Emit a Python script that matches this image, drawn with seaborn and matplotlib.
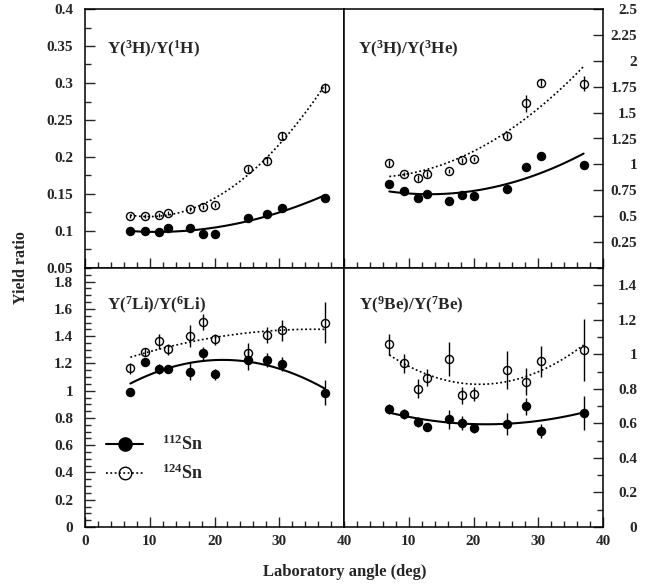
import numpy as np
import pandas as pd
import matplotlib
matplotlib.use("Agg")
import matplotlib.pyplot as plt
from matplotlib.lines import Line2D
from matplotlib.ticker import FixedLocator, MultipleLocator, FuncFormatter
import seaborn as sns

# Laboratory angles (deg)
angle = [7.0, 9.3, 11.4, 12.8, 16.2, 18.3, 20.0, 25.1, 28.1, 30.5, 37.0]

# Y(3H)/Y(1H)
h_sn112 = [0.0996, 0.0996, 0.0982, 0.104, 0.104, 0.0955, 0.0955, 0.118, 0.123, 0.1307, 0.1446]
h_sn112_err = [0.002, 0.002, 0.002, 0.002, 0.002, 0.002, 0.002, 0.003, 0.003, 0.003, 0.004]
h_sn124 = [0.1203, 0.1203, 0.1216, 0.1247, 0.1301, 0.1324, 0.1355, 0.1838, 0.195, 0.2284, 0.2936]
h_sn124_err = [0.003, 0.003, 0.003, 0.003, 0.003, 0.003, 0.003, 0.004, 0.005, 0.005, 0.007]

# Y(3H)/Y(3He)
he_sn112 = [0.809, 0.739, 0.674, 0.710, 0.643, 0.703, 0.694, 0.764, 0.976, 1.079, 0.990]
he_sn112_err = [0.02, 0.02, 0.02, 0.02, 0.02, 0.02, 0.02, 0.02, 0.03, 0.03, 0.03]
he_sn124 = [1.016, 0.904, 0.868, 0.907, 0.939, 1.038, 1.055, 1.272, 1.590, 1.790, 1.780]
he_sn124_err = [0.03, 0.02, 0.03, 0.03, 0.02, 0.02, 0.02, 0.03, 0.08, 0.03, 0.07]

# Y(7Li)/Y(6Li)
li_sn112 = [0.988, 1.213, 1.159, 1.157, 1.139, 1.274, 1.120, 1.225, 1.225, 1.194, 0.985]
li_sn112_err = [0.03, 0.03, 0.04, 0.03, 0.064, 0.05, 0.04, 0.073, 0.05, 0.05, 0.09]
li_sn124 = [1.164, 1.286, 1.364, 1.303, 1.403, 1.505, 1.376, 1.274, 1.408, 1.445, 1.498]
li_sn124_err = [0.04, 0.03, 0.055, 0.04, 0.08, 0.06, 0.04, 0.075, 0.06, 0.077, 0.15]

# Y(9Be)/Y(7Be)
be_sn112 = [0.683, 0.656, 0.609, 0.582, 0.623, 0.602, 0.573, 0.598, 0.698, 0.555, 0.660]
be_sn112_err = [0.03, 0.03, 0.03, 0.02, 0.056, 0.04, 0.03, 0.063, 0.05, 0.04, 0.10]
be_sn124 = [1.057, 0.947, 0.801, 0.865, 0.973, 0.762, 0.772, 0.912, 0.840, 0.960, 1.023]
be_sn124_err = [0.06, 0.056, 0.056, 0.05, 0.10, 0.05, 0.04, 0.11, 0.078, 0.09, 0.18]

titles = [r"Y($^{3}$H)/Y($^{1}$H)", r"Y($^{3}$H)/Y($^{3}$He)",
          r"Y($^{7}$Li)/Y($^{6}$Li)", r"Y($^{9}$Be)/Y($^{7}$Be)"]
legend_labels = [r"$^{112}$Sn", r"$^{124}$Sn"]

sns.set_theme(style="ticks")
serif = "Liberation Serif"
plt.rcParams.update({
    "font.family": [serif, "DejaVu Serif"],
    "font.weight": "bold",
    "mathtext.fontset": "custom",
    "mathtext.rm": f"{serif}:bold",
    "mathtext.it": f"{serif}:bold",
    "mathtext.bf": f"{serif}:bold",
    "mathtext.default": "rm",
    "axes.linewidth": 1.1,
    "axes.edgecolor": "black",
})

fig, axes = plt.subplots(2, 2, figsize=(6.62, 5.86), dpi=100)
fig.subplots_adjust(left=85 / 662, right=603 / 662, top=1 - 9 / 586,
                    bottom=1 - 527 / 586, wspace=0, hspace=0)

panels = [
    dict(ax=axes[0, 0], s112=h_sn112, e112=h_sn112_err, s124=h_sn124, e124=h_sn124_err,
         ylim=(0.05, 0.4), major=np.arange(0.05, 0.401, 0.05), minor=0.025, side="left",
         title=titles[0], tpos=(0.085, 0.842)),
    dict(ax=axes[0, 1], s112=he_sn112, e112=he_sn112_err, s124=he_sn124, e124=he_sn124_err,
         ylim=(0.0, 2.5), major=np.arange(0.25, 2.501, 0.25), minor=None, side="right",
         title=titles[1], tpos=(0.055, 0.842)),
    dict(ax=axes[1, 0], s112=li_sn112, e112=li_sn112_err, s124=li_sn124, e124=li_sn124_err,
         ylim=(0.0, 1.9), major=np.arange(0.0, 1.801, 0.2), minor=0.05, side="left",
         title=titles[2], tpos=(0.085, 0.857)),
    dict(ax=axes[1, 1], s112=be_sn112, e112=be_sn112_err, s124=be_sn124, e124=be_sn124_err,
         ylim=(0.0, 1.5), major=np.arange(0.0, 1.401, 0.2), minor=0.1, side="right",
         title=titles[3], tpos=(0.058, 0.857)),
]

fmt = FuncFormatter(lambda v, p: f"{round(v, 3):g}")
solid_kw = dict(color="black", lw=1.5, ls="-")
dotted_kw = dict(color="black", lw=1.2, ls=(0, (1.1, 1.5)))

for i, p in enumerate(panels):
    ax = p["ax"]
    df = pd.DataFrame({"angle": angle, "sn112": p["s112"], "sn124": p["s124"]})

    # quadratic fits through each isotope series
    sns.regplot(data=df, x="angle", y="sn112", order=2, ci=None, scatter=False,
                ax=ax, line_kws=solid_kw)
    sns.regplot(data=df, x="angle", y="sn124", order=2, ci=None, scatter=False,
                ax=ax, line_kws=dotted_kw)

    # measured points with error bars
    ax.errorbar(angle, p["s112"], yerr=p["e112"], fmt="o", color="black", ms=5.8,
                mfc="black", mec="black", elinewidth=1.0, capsize=0, zorder=4)
    ax.errorbar(angle, p["s124"], yerr=p["e124"], fmt="o", color="black", ms=5.8,
                mfc="none", mec="black", mew=1.0, elinewidth=1.0, capsize=0, zorder=4)

    ax.set_xlim(0, 40)
    ax.set_ylim(*p["ylim"])
    ax.set_xlabel("")
    ax.set_ylabel("")

    # x axis: major every 10, minor every 2, inward at the bottom only
    if i == 3:
        ax.xaxis.set_major_locator(FixedLocator([10, 20, 30, 40]))
    else:
        ax.xaxis.set_major_locator(MultipleLocator(10))
    ax.xaxis.set_minor_locator(MultipleLocator(2))
    ax.tick_params(axis="x", which="both", direction="in", top=False, bottom=True,
                   labelbottom=(i >= 2), pad=6, labelsize=11)
    ax.tick_params(axis="x", which="major", length=7.2, width=1.0)
    ax.tick_params(axis="x", which="minor", length=4.3, width=1.0)

    # y axis
    ax.yaxis.set_major_locator(FixedLocator(p["major"]))
    ax.yaxis.set_major_formatter(fmt)
    if p["minor"] is not None:
        ax.yaxis.set_minor_locator(MultipleLocator(p["minor"]))
    else:
        ax.yaxis.set_minor_locator(FixedLocator([]))
    if p["side"] == "left":
        ax.tick_params(axis="y", which="both", direction="in", left=True, right=False,
                       labelleft=True, labelright=False, pad=8.5, labelsize=11)
    else:
        ax.tick_params(axis="y", which="both", direction="in", left=False, right=True,
                       labelleft=False, labelright=True, pad=24.5, labelsize=11)
        for t in ax.get_yticklabels():
            t.set_horizontalalignment("right")
    ax.tick_params(axis="y", which="major", length=7.2, width=1.0)
    ax.tick_params(axis="y", which="minor", length=4.3, width=1.0)

    for s in ax.spines.values():
        s.set_visible(True)
        s.set_linewidth(1.1)
        s.set_color("black")
    for t in ax.get_xticklabels() + ax.get_yticklabels():
        t.set_fontweight("bold")

    ax.text(p["tpos"][0], p["tpos"][1], p["title"], transform=ax.transAxes,
            ha="left", va="center", fontsize=12.3, fontweight="bold")

# isotope legend in the lithium panel
handles = [
    Line2D([], [], color="black", marker="o", ms=9.5, mfc="black", lw=1.5, ls="-"),
    Line2D([], [], color="black", marker="o", ms=9, mfc="none", mew=1.0, lw=1.2,
           ls=(0, (1.1, 1.5))),
]
leg = axes[1, 0].legend(handles, legend_labels, loc="center left",
                        bbox_to_anchor=(0.083, 0.2625), frameon=False,
                        borderaxespad=0, borderpad=0, handlelength=2.0,
                        handletextpad=1.1, labelspacing=0.55,
                        prop={"family": serif, "weight": "bold", "size": 13})

fig.text(345 / 662, 1 - 572 / 586, "Laboratory angle (deg)", ha="center", va="center",
         fontsize=12, fontweight="bold")
fig.text(21 / 662, 1 - 268 / 586, "Yield ratio", ha="center", va="center",
         rotation=90, fontsize=11.5, fontweight="bold")

fig.savefig("out.png", dpi=100, facecolor="white")
